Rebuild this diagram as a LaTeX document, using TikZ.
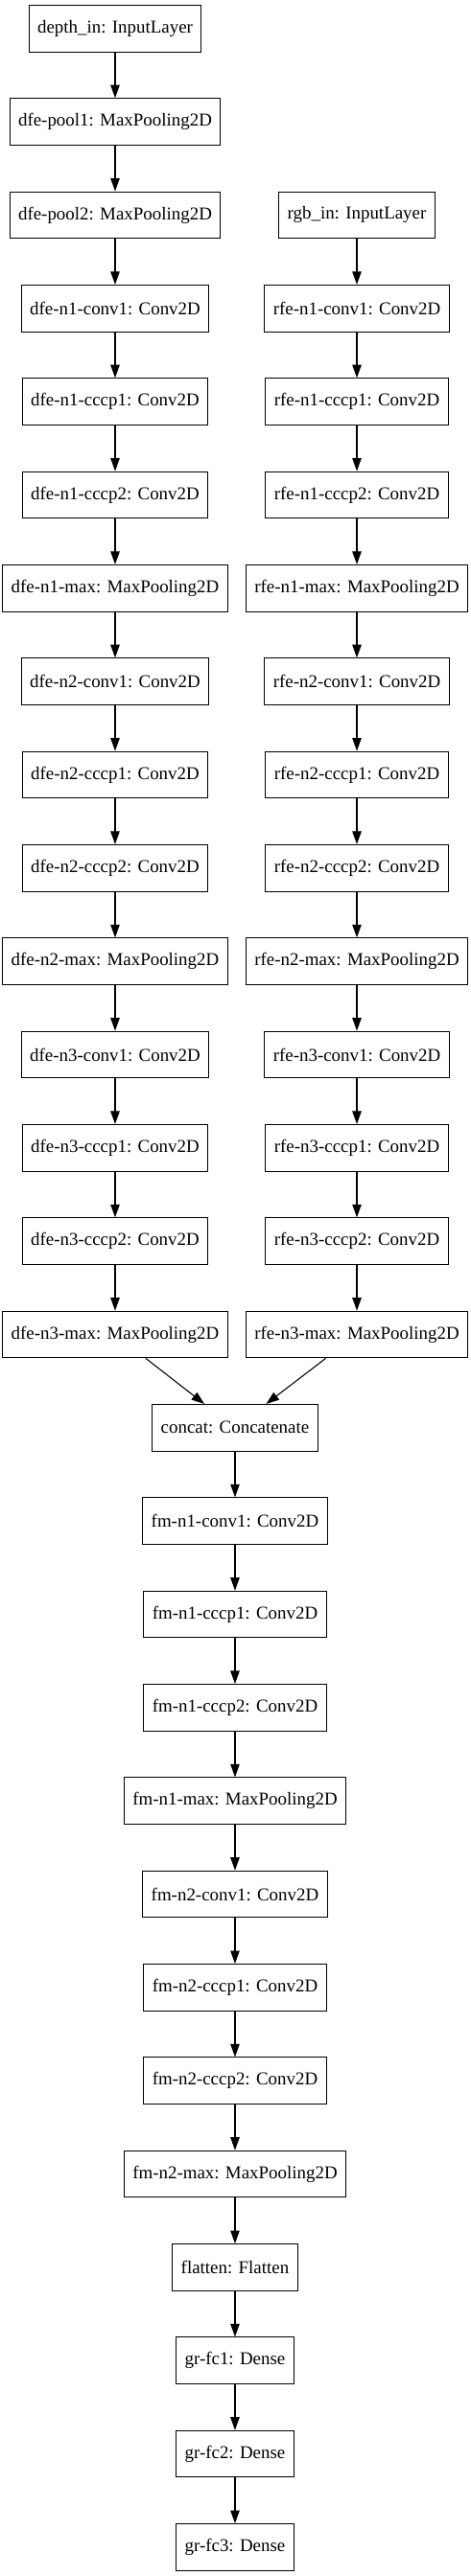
\documentclass[tikz,border=0pt]{standalone}
\usepackage{fontspec}
\setmainfont{Liberation Serif}
\usetikzlibrary{arrows.meta}

\begin{document}
\begin{tikzpicture}[
	x=72pt, y=72pt,
	layer/.style={
		rectangle,
		draw,
		line width=0.8pt,
		align=center,
		inner xsep=6.6pt,
		inner ysep=2pt,
		minimum height=36pt,
		font=\fontsize{14pt}{16pt}\selectfont
	},
	Edge/.style={% Straight arrows with filled heads
		-{Triangle[length=10pt,width=7pt]},
		line width=0.8pt,
	},
]
	\useasboundingbox (-1.2328,0.3056) rectangle (3.811,-27.309);

	% depth branch
	\node [layer] (din) at (0,0) {depth\_in: InputLayer};
	\node [layer] (dpool1) at (0,-1) {dfe-pool1: MaxPooling2D};
	\node [layer] (dpool2) at (0,-2) {dfe-pool2: MaxPooling2D};
	\node [layer] (d1conv) at (0,-3) {dfe-n1-conv1: Conv2D};
	\node [layer] (d1cccp1) at (0,-4) {dfe-n1-cccp1: Conv2D};
	\node [layer] (d1cccp2) at (0,-5) {dfe-n1-cccp2: Conv2D};
	\node [layer] (d1max) at (0,-6) {dfe-n1-max: MaxPooling2D};
	\node [layer] (d2conv) at (0,-7) {dfe-n2-conv1: Conv2D};
	\node [layer] (d2cccp1) at (0,-8) {dfe-n2-cccp1: Conv2D};
	\node [layer] (d2cccp2) at (0,-9) {dfe-n2-cccp2: Conv2D};
	\node [layer] (d2max) at (0,-10) {dfe-n2-max: MaxPooling2D};
	\node [layer] (d3conv) at (0,-11) {dfe-n3-conv1: Conv2D};
	\node [layer] (d3cccp1) at (0,-12) {dfe-n3-cccp1: Conv2D};
	\node [layer] (d3cccp2) at (0,-13) {dfe-n3-cccp2: Conv2D};
	\node [layer] (d3max) at (0,-14) {dfe-n3-max: MaxPooling2D};

	% rgb branch
	\node [layer] (rin) at (2.589,-2) {rgb\_in: InputLayer};
	\node [layer] (r1conv) at (2.589,-3) {rfe-n1-conv1: Conv2D};
	\node [layer] (r1cccp1) at (2.589,-4) {rfe-n1-cccp1: Conv2D};
	\node [layer] (r1cccp2) at (2.589,-5) {rfe-n1-cccp2: Conv2D};
	\node [layer] (r1max) at (2.589,-6) {rfe-n1-max: MaxPooling2D};
	\node [layer] (r2conv) at (2.589,-7) {rfe-n2-conv1: Conv2D};
	\node [layer] (r2cccp1) at (2.589,-8) {rfe-n2-cccp1: Conv2D};
	\node [layer] (r2cccp2) at (2.589,-9) {rfe-n2-cccp2: Conv2D};
	\node [layer] (r2max) at (2.589,-10) {rfe-n2-max: MaxPooling2D};
	\node [layer] (r3conv) at (2.589,-11) {rfe-n3-conv1: Conv2D};
	\node [layer] (r3cccp1) at (2.589,-12) {rfe-n3-cccp1: Conv2D};
	\node [layer] (r3cccp2) at (2.589,-13) {rfe-n3-cccp2: Conv2D};
	\node [layer] (r3max) at (2.589,-14) {rfe-n3-max: MaxPooling2D};

	% fused part
	\node [layer] (concat) at (1.284,-15) {concat: Concatenate};
	\node [layer] (f1conv) at (1.284,-16) {fm-n1-conv1: Conv2D};
	\node [layer] (f1cccp1) at (1.284,-17) {fm-n1-cccp1: Conv2D};
	\node [layer] (f1cccp2) at (1.284,-18) {fm-n1-cccp2: Conv2D};
	\node [layer] (f1max) at (1.284,-19) {fm-n1-max: MaxPooling2D};
	\node [layer] (f2conv) at (1.284,-20) {fm-n2-conv1: Conv2D};
	\node [layer] (f2cccp1) at (1.284,-21) {fm-n2-cccp1: Conv2D};
	\node [layer] (f2cccp2) at (1.284,-22) {fm-n2-cccp2: Conv2D};
	\node [layer] (f2max) at (1.284,-23) {fm-n2-max: MaxPooling2D};
	\node [layer] (flat) at (1.284,-24) {flatten: Flatten};
	\node [layer] (fc1) at (1.284,-25) {gr-fc1: Dense};
	\node [layer] (fc2) at (1.284,-26) {gr-fc2: Dense};
	\node [layer] (fc3) at (1.284,-27) {gr-fc3: Dense};

	\draw [Edge] (din) -- (dpool1);
	\draw [Edge] (dpool1) -- (dpool2);
	\draw [Edge] (dpool2) -- (d1conv);
	\draw [Edge] (d1conv) -- (d1cccp1);
	\draw [Edge] (d1cccp1) -- (d1cccp2);
	\draw [Edge] (d1cccp2) -- (d1max);
	\draw [Edge] (d1max) -- (d2conv);
	\draw [Edge] (d2conv) -- (d2cccp1);
	\draw [Edge] (d2cccp1) -- (d2cccp2);
	\draw [Edge] (d2cccp2) -- (d2max);
	\draw [Edge] (d2max) -- (d3conv);
	\draw [Edge] (d3conv) -- (d3cccp1);
	\draw [Edge] (d3cccp1) -- (d3cccp2);
	\draw [Edge] (d3cccp2) -- (d3max);

	\draw [Edge] (rin) -- (r1conv);
	\draw [Edge] (r1conv) -- (r1cccp1);
	\draw [Edge] (r1cccp1) -- (r1cccp2);
	\draw [Edge] (r1cccp2) -- (r1max);
	\draw [Edge] (r1max) -- (r2conv);
	\draw [Edge] (r2conv) -- (r2cccp1);
	\draw [Edge] (r2cccp1) -- (r2cccp2);
	\draw [Edge] (r2cccp2) -- (r2max);
	\draw [Edge] (r2max) -- (r3conv);
	\draw [Edge] (r3conv) -- (r3cccp1);
	\draw [Edge] (r3cccp1) -- (r3cccp2);
	\draw [Edge] (r3cccp2) -- (r3max);

	\draw [Edge] (d3max) -- (concat);
	\draw [Edge] (r3max) -- (concat);
	\draw [Edge] (concat) -- (f1conv);
	\draw [Edge] (f1conv) -- (f1cccp1);
	\draw [Edge] (f1cccp1) -- (f1cccp2);
	\draw [Edge] (f1cccp2) -- (f1max);
	\draw [Edge] (f1max) -- (f2conv);
	\draw [Edge] (f2conv) -- (f2cccp1);
	\draw [Edge] (f2cccp1) -- (f2cccp2);
	\draw [Edge] (f2cccp2) -- (f2max);
	\draw [Edge] (f2max) -- (flat);
	\draw [Edge] (flat) -- (fc1);
	\draw [Edge] (fc1) -- (fc2);
	\draw [Edge] (fc2) -- (fc3);
\end{tikzpicture}
\end{document}
